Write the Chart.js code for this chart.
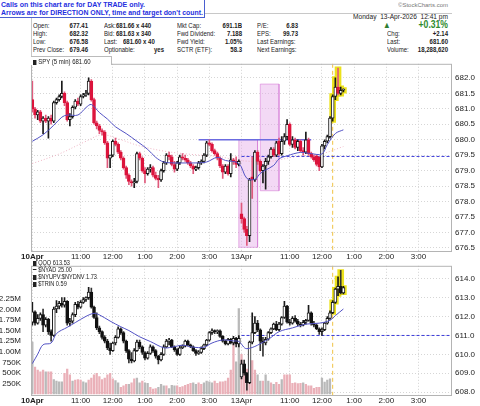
<!DOCTYPE html>
<html>
<head>
<meta charset="utf-8">
<script src="https://cdn.jsdelivr.net/npm/chart.js@4.4.1/dist/chart.umd.min.js"></script>
<style>
  body { margin: 0; width: 480px; height: 406px; position: relative; overflow: hidden; background: #fff;
         font-family: "Liberation Sans", Arial, sans-serif; color: #222; }
  .t { position: absolute; white-space: nowrap; font-size: 7px; line-height: 7px; transform: scaleX(0.86); transform-origin: left top; }
  .b { font-weight: bold; }
  .r { text-align: right; transform-origin: right top; }
  #note { position: absolute; left: 0; top: 0; width: 204px; height: 17px; background: #fff;
          border-right: 1px solid #4a5fd0; border-bottom: 1px solid #4a5fd0; z-index: 3; }
  #note div { position: absolute; left: 1px; font-weight: bold; font-size: 8px; line-height: 8px; color: #1f2fe0; white-space: nowrap; }
  #frame { position: absolute; left: 31px; top: 13px; width: 421px; height: 238px; border-top: 1px solid #c8c8c8; border-left: 1px solid #c8c8c8; box-sizing: border-box; }
  #spyLab { position: absolute; left: 31px; top: 56px; width: 81px; height: 9px; background: #fff;
            border-top: 1px solid #bbb; border-right: 1px solid #bbb; box-sizing: border-box; z-index: 2; }
  canvas { position: absolute; left: 0; }
  #top { top: 56px; }
  #bot { top: 258px; }
  .ico { display: inline-block; width: 4px; height: 5px; background: #222; margin-right: 2px; vertical-align: -1px; }
</style>
</head>
<body>
<div id="frame"></div>
<div id="note">
  <div style="top:1px" data-w="144">Calls on this chart are for DAY TRADE only.</div>
  <div style="top:9px" data-w="202">Arrows are for DIRECTION ONLY, time and target don't count.</div>
</div>

<div class="t" style="left:398px;top:2px;font-size:6px;color:#777" data-w="50">&copy;StockCharts.com</div>
<div class="t" style="left:353px;top:13px" data-w="95">Monday&nbsp; 13-Apr-2026&nbsp; 12:41 pm</div>

<div class="t" style="left:33px;top:22px">Open:</div>
<div class="t b r" style="left:48px;width:40px;top:22px">677.41</div>
<div class="t" style="left:33px;top:30px">High:</div>
<div class="t b r" style="left:48px;width:40px;top:30px">682.32</div>
<div class="t" style="left:33px;top:38px">Low:</div>
<div class="t b r" style="left:48px;width:40px;top:38px">676.58</div>
<div class="t" style="left:33px;top:46px">Prev Close:</div>
<div class="t b r" style="left:48px;width:40px;top:46px">679.46</div>

<div class="t" style="left:104px;top:22px">Ask:</div>
<div class="t b" style="left:116px;top:22px">681.66 x 440</div>
<div class="t" style="left:104px;top:30px">Bid:</div>
<div class="t b" style="left:116px;top:30px">681.63 x 340</div>
<div class="t" style="left:104px;top:38px">Last:</div>
<div class="t b" style="left:123px;top:38px">681.60 x 40</div>
<div class="t" style="left:104px;top:46px">Optionable:</div>
<div class="t b r" style="left:140px;width:24px;top:46px">yes</div>

<div class="t" style="left:177px;top:22px">Mkt Cap:</div>
<div class="t b r" style="left:200px;width:42px;top:22px">691.1B</div>
<div class="t" style="left:177px;top:30px">Fwd Dividend:</div>
<div class="t b r" style="left:200px;width:42px;top:30px">7.188</div>
<div class="t" style="left:177px;top:38px">Fwd Yield:</div>
<div class="t b r" style="left:200px;width:42px;top:38px">1.05%</div>
<div class="t" style="left:177px;top:46px">SCTR (ETF):</div>
<div class="t b r" style="left:200px;width:42px;top:46px">58.3</div>

<div class="t" style="left:257px;top:22px">P/E:</div>
<div class="t b r" style="left:260px;width:38px;top:22px">6.83</div>
<div class="t" style="left:257px;top:30px">EPS:</div>
<div class="t b r" style="left:260px;width:38px;top:30px">99.73</div>
<div class="t" style="left:257px;top:38px">Last Earnings:</div>
<div class="t" style="left:257px;top:46px">Next Earnings:</div>

<div class="t" style="left:383px;top:21px;font-size:9px;line-height:9px;color:#2e7d32">&#9650;</div>
<div class="t b r" style="left:400px;width:48px;top:20px;font-size:10px;line-height:10px;color:#2e8b2e">+0.31%</div>
<div class="t" style="left:387px;top:30px">Chg:</div>
<div class="t b r" style="left:410px;width:38px;top:30px">+2.14</div>
<div class="t" style="left:387px;top:38px">Last:</div>
<div class="t b r" style="left:410px;width:38px;top:38px">681.60</div>
<div class="t" style="left:387px;top:46px">Volume:</div>
<div class="t b r" style="left:390px;width:58px;top:46px">18,288,620</div>

<div id="spyLab"></div>
<div class="t" style="left:33px;top:57.5px;z-index:3"><span class="ico"></span>SPY (5 min) 681.60</div>

<canvas id="top" width="480" height="205"></canvas>
<canvas id="bot" width="480" height="148"></canvas>

<div class="t" style="left:33px;top:259px;font-size:6.5px"><span class="ico"></span>QQQ 613.53</div>
<div class="t" style="left:33px;top:266px;font-size:6.5px"><span class="ico" style="height:1px;vertical-align:2px"></span>$NYAD 25.00</div>
<div class="t" style="left:33px;top:273px;font-size:6.5px"><span class="ico"></span>$NYUPV:$NYDNV 1.73</div>
<div class="t" style="left:33px;top:280px;font-size:6.5px"><span class="ico"></span>$TRIN 0.59</div>

<script>
// ---- time slots: 10Apr + 13Apr, 5 min bars from 9:30 ----
const days = ['10Apr', '13Apr'];
const barsPerDay = [78, 79];
const hourTicks = [[0, '10Apr'], [18, '11:00'], [30, '12:00'], [42, '1:00'], [54, '2:00'], [66, '3:00'],
                   [78, '13Apr'], [96, '11:00'], [108, '12:00'], [120, '1:00'], [132, '2:00'], [144, '3:00']];
const spyTicks = [676.5, 677.0, 677.5, 678.0, 678.5, 679.0, 679.5, 680.0, 680.5, 681.0, 681.5, 682.0];
const qqqTicks = [608.0, 608.5, 609.0, 609.5, 610.0, 610.5, 611.0, 611.5, 612.0, 612.5, 613.0, 613.5, 614.0, 614.5];
const volTicks = [250000, 500000, 750000, 1000000, 1250000, 1500000, 1750000, 2000000, 2250000];

// ---- SPY 5 min ----
const spyOpen = [681.3,681.0,680.8,680.9,680.6,680.7,680.6,680.7,680.6,681.2,681.3,681.4,681.5,681.2,680.65,680.75,681.05,681.25,681.15,681.4,
  681.45,681.5,681.9,681.3,680.55,680.45,680.3,680.25,679.9,679.4,679.5,679.95,679.85,679.6,679.4,679.1,678.85,678.65,678.6,678.65,
  679.55,679.4,679.0,678.9,679.05,679.1,678.85,678.75,678.7,679.0,679.25,679.5,679.45,679.2,679.05,679.25,679.45,679.4,679.35,679.25,
  679.15,679.05,679.1,679.25,679.3,679.5,679.9,679.85,679.65,679.55,679.4,679.15,678.95,679.15,678.9,679.35,679.3,679.2,
  677.6,677.45,677.1,676.9,678.8,678.7,679.6,679.3,679.0,679.15,679.3,679.45,679.7,679.5,679.95,679.55,679.95,680.1,680.5,679.85,
  680.0,679.75,679.95,679.65,679.6,680.0,679.55,679.45,679.48,679.45,679.12,679.8,679.95,680.1,680.7,681.4,681.7,681.5,681.6];
const spyHigh = [681.9,681.05,680.95,680.95,680.75,680.8,680.75,680.8,681.25,681.35,681.45,681.9,681.55,681.25,680.85,681.1,681.3,681.35,681.45,681.5,
  681.6,682.0,681.95,681.35,680.6,680.5,680.35,680.3,679.95,679.5,680.0,680.05,679.9,679.65,679.45,679.15,678.9,678.7,678.75,679.6,
  679.6,679.45,679.1,679.1,679.2,679.15,678.95,678.85,679.05,679.3,679.55,679.6,679.5,679.3,679.3,679.5,679.55,679.5,679.4,679.3,
  679.2,679.15,679.3,679.35,679.55,679.95,680.0,679.9,679.7,679.6,679.45,679.2,679.2,679.2,679.55,679.4,679.45,679.35,
  677.95,677.5,677.2,678.75,679.45,679.65,679.65,679.35,679.2,679.4,679.5,679.75,679.75,679.95,680.05,680.1,680.2,680.65,680.55,680.1,
  680.05,680.0,680.0,679.75,680.25,680.05,679.6,679.5,679.5,679.45,679.85,680.0,680.15,680.75,681.45,682.0,682.32,681.7,681.65];
const spyLow = [680.9,680.7,680.65,680.55,680.2,680.55,680.05,680.5,680.55,681.15,681.25,681.35,681.1,680.6,680.45,680.7,681.0,681.1,681.1,681.35,
  681.4,681.45,681.25,680.5,680.35,680.2,680.15,679.85,679.1,679.1,679.45,679.8,679.55,679.35,679.05,678.75,678.55,678.5,678.45,678.6,
  679.35,678.95,678.6,678.85,678.95,678.8,678.7,678.45,678.65,678.95,679.2,679.35,679.15,678.95,679.0,679.2,679.35,679.3,679.2,679.1,
  678.9,679.0,679.05,679.2,679.25,679.45,679.8,679.6,679.5,679.35,679.1,678.75,678.9,678.85,678.8,679.2,679.1,679.15,
  677.3,677.0,676.58,676.7,678.1,678.65,679.2,678.95,678.6,678.4,679.2,679.4,679.45,679.45,679.5,679.5,679.85,680.0,679.8,679.75,
  679.7,679.65,679.6,679.5,679.55,679.5,679.4,679.3,679.15,679.0,679.1,679.7,679.9,680.05,680.6,681.3,681.45,681.45,681.55];
const spyClose = [681.0,680.8,680.9,680.6,680.7,680.6,680.7,680.6,681.2,681.3,681.4,681.5,681.2,680.65,680.75,681.05,681.25,681.15,681.4,681.45,
  681.5,681.9,681.3,680.55,680.45,680.3,680.25,679.9,679.4,679.5,679.95,679.85,679.6,679.4,679.1,678.85,678.65,678.6,678.65,679.55,
  679.4,679.0,678.9,679.05,679.1,678.85,678.75,678.7,679.0,679.25,679.5,679.45,679.2,679.05,679.25,679.45,679.4,679.35,679.25,679.15,
  679.05,679.1,679.25,679.3,679.5,679.9,679.85,679.65,679.55,679.4,679.15,678.95,679.15,678.9,679.35,679.3,679.2,679.3,
  677.45,677.1,676.9,678.7,678.7,679.6,679.3,679.0,679.15,679.3,679.45,679.7,679.5,679.9,679.55,679.95,680.1,680.5,679.85,680.0,
  679.75,679.95,679.65,679.6,680.0,679.55,679.45,679.35,679.2,679.12,679.8,679.95,680.1,680.7,681.4,681.7,681.5,681.6,681.6];
// moving averages: [bar index, value]
const spyMaFast = [[0,679.95],[4,680.16],[8,680.47],[11,680.73],[13,680.8],[17,680.8],[20,681.04],[22,681.14],[25,680.88],[28,680.67],
  [31,680.42],[35,680.2],[39,679.95],[43,679.69],[46,679.43],[49,679.28],[53,679.25],[58,679.25],[61,679.25],[65,679.28],[69,679.43],
  [72,679.33],[77,679.23],[80,678.75],[83,678.72],[85,678.91],[87,679.02],[90,679.17],[92,679.38],[95,679.48],[100,679.59],[104,679.55],
  [108,679.54],[110,679.84],[113,680.2],[116,680.32]];
const spyMaSlow = [[0,679.23],[10,679.54],[20,679.95],[26,680.16],[33,680.0],[40,679.8],[50,679.62],[60,679.52],[70,679.45],[77,679.33],
  [88,679.3],[98,679.45],[108,679.55],[116,679.78]];
const spyPrevClose = 679.46;
const spyResistance = [62, 104, 680.0];
const spyBoxes = [[77, 84, 680.0, 676.52], [85, 92, 681.8, 678.35]];

// ---- QQQ 5 min + volume ----
const qqqOpen = [611.7,612.25,611.65,611.9,612.1,611.55,611.85,611.2,611.0,612.4,612.55,612.7,612.6,612.8,611.65,611.75,612.1,612.65,612.5,612.75,
  612.9,613.0,613.3,612.5,611.95,611.4,611.2,610.9,610.7,610.35,610.2,610.6,610.9,611.35,611.15,610.7,610.2,609.75,609.65,610.2,
  610.65,610.4,610.1,609.8,610.05,610.4,610.2,609.9,609.7,610.0,610.4,610.7,610.75,610.4,610.25,610.0,610.35,610.45,610.7,610.5,
  610.4,610.2,610.05,610.1,610.3,610.5,610.75,611.15,611.25,611.2,611.25,610.95,610.7,610.55,610.8,610.6,610.85,610.55,
  608.8,609.5,609.0,608.5,610.65,611.15,611.65,611.3,610.7,610.6,610.8,611.15,611.35,611.6,611.3,611.6,611.95,612.55,611.7,611.65,
  611.9,611.75,611.6,611.55,611.7,611.8,612.2,611.65,611.55,611.35,611.2,611.3,611.65,611.9,612.2,612.75,613.45,613.6,613.25];
const qqqHigh = [612.75,612.3,612.1,612.2,612.4,611.95,611.9,611.3,612.5,612.85,612.8,613.0,613.0,612.85,611.9,612.2,612.75,612.8,612.85,613.0,
  613.05,613.55,613.5,612.55,612.2,611.5,611.25,611.0,610.8,610.6,610.65,611.0,611.45,611.4,611.2,610.75,610.25,610.1,610.3,610.75,
  610.75,610.45,610.15,610.15,610.5,610.45,610.25,609.95,610.1,610.5,610.8,610.85,610.8,610.45,610.3,610.45,610.5,610.75,610.75,610.55,
  610.45,610.25,610.2,610.4,610.55,610.8,611.2,611.35,611.3,611.3,611.3,611.0,610.75,610.85,610.85,610.95,610.9,611.0,
  609.7,609.7,609.05,610.7,612.2,612.0,611.8,611.35,610.9,610.9,611.2,611.4,611.65,611.75,611.7,612.0,612.8,612.6,611.85,612.0,
  612.05,611.85,611.7,611.8,611.85,612.6,612.25,611.75,611.6,611.4,611.4,611.7,612.0,612.3,612.85,613.5,614.1,614.45,613.6];
const qqqLow = [611.55,611.55,611.6,611.8,611.2,611.45,611.05,610.7,610.95,612.2,612.4,612.5,612.5,611.55,611.5,611.65,612.0,612.4,612.45,612.7,
  612.8,612.9,612.45,611.9,611.3,611.1,610.8,610.6,610.25,610.0,610.15,610.5,610.85,611.05,610.6,610.1,609.55,609.55,609.6,610.15,
  610.3,610.0,609.7,609.75,610.0,610.1,609.8,609.5,609.65,609.95,610.35,610.5,610.35,610.15,609.95,609.95,610.3,610.4,610.45,610.35,
  610.15,609.95,610.0,610.05,610.25,610.45,610.7,611.05,611.1,611.1,610.9,610.65,610.5,610.5,610.55,610.5,610.4,610.4,
  608.7,608.9,608.1,608.45,610.55,611.1,611.2,610.2,609.9,610.5,610.75,611.1,611.3,611.25,611.25,611.55,611.9,611.65,611.55,611.6,
  611.7,611.5,611.45,611.5,611.6,611.75,611.55,611.45,611.3,611.05,611.0,611.25,611.6,611.85,612.15,612.7,613.1,613.2,613.2];
const qqqClose = [612.25,611.65,611.9,612.1,611.55,611.85,611.2,611.0,612.4,612.55,612.7,612.6,612.8,611.65,611.75,612.1,612.65,612.5,612.75,612.9,
  613.0,613.3,612.5,611.95,611.4,611.2,610.9,610.7,610.35,610.2,610.6,610.9,611.35,611.15,610.7,610.2,609.75,609.65,610.2,610.65,
  610.4,610.1,609.8,610.05,610.4,610.2,609.9,609.7,610.0,610.4,610.7,610.75,610.4,610.25,610.0,610.35,610.45,610.7,610.5,610.4,
  610.2,610.05,610.1,610.3,610.5,610.75,611.15,611.25,611.2,611.25,610.95,610.7,610.55,610.8,610.6,610.85,610.55,610.85,
  609.5,609.0,608.5,610.65,611.15,611.65,611.3,610.7,610.6,610.8,611.15,611.35,611.6,611.3,611.6,611.95,612.55,611.7,611.65,611.9,
  611.75,611.6,611.55,611.7,611.8,612.2,611.65,611.55,611.35,611.2,611.3,611.65,611.9,612.2,612.75,613.45,613.6,613.25,613.53];
const qqqVolume = [1240,650,576,540,576,540,540,540,354,317,300,300,502,600,465,317,340,354,340,300,
  280,340,391,465,502,428,354,391,465,502,370,330,280,170,205,243,243,280,370,391,
  280,317,280,265,170,131,145,170,243,205,205,145,220,205,205,170,190,220,243,265,
  280,243,280,243,280,317,300,280,317,265,300,300,317,391,576,1290,770,2030,
  950,700,600,1090,800,576,465,317,317,465,317,280,243,290,243,354,465,465,465,265,
  280,260,265,280,243,205,205,150,170,170,391,295,340,370].map(v => v * 1000);
const qqqVolDown = [0,1,1,1,1,0,1,1,0,0,0,0,1,1,1,0,1,1,1,0,0,1,1,1,1,1,1,1,1,1,1,0,0,1,1,1,0,1,1,0,
  0,1,0,0,1,1,1,0,0,0,1,0,0,0,1,1,1,1,1,1,0,0,1,1,0,0,0,0,1,1,1,1,1,1,1,1,0,0,
  1,1,1,1,1,1,0,0,1,0,0,1,0,1,1,0,1,1,1,1,1,1,1,0,1,1,1,1,1,1,0,0,0,0];
const qqqMa = [[0,609.51],[2,610.01],[4,610.51],[7,610.6],[9,611.1],[13,611.43],[16,611.68],[20,612.01],[23,612.17],[25,612.09],
  [29,611.76],[33,611.46],[36,611.26],[40,610.93],[44,610.68],[49,610.35],[52,610.38],[56,610.48],[60,610.38],[64,610.38],[67,610.6],
  [71,610.76],[75,610.71],[77,610.68],[80,610.3],[88,610.8],[92,611.2],[97,611.4],[102,611.6],[107,611.65],[111,611.8],[113,612.05],[116,612.4]];
const qqqPrevClose = 611.0;

const entryIndex = 112;   // yellow dashed marker + highlighted bars

// ---- helpers ----
const slots = [];
days.forEach((d, k) => {
  for (let i = 0; i < barsPerDay[k]; i++) {
    const m = 570 + 5 * i;
    slots.push(d + ' ' + Math.floor(m / 60) + ':' + String(m % 60).padStart(2, '0'));
  }
});
const tickMap = Object.fromEntries(hourTicks);
const FONT = '"Liberation Sans", Arial, sans-serif';
const pts = arr => arr.map(([i, v]) => ({ x: slots[i], y: v }));
const fixTicks = list => s => { s.ticks = list.map(v => ({ value: v })); };

function xAxis(h) {
  return {
    offset: true,
    grid: { offset: false, color: '#d2d2d2', drawTicks: false },
    border: { display: false, dash: [1, 2] },
    ticks: {
      autoSkip: false, maxRotation: 0, padding: 1, color: '#222',
      font: c => ({ size: 8, family: FONT, weight: (c.index === 0 || c.index === 78) ? 'bold' : 'normal' }),
      callback: (v, i) => (tickMap[i] !== undefined ? tickMap[i] : null)
    },
    afterFit: s => { s.height = h; }
  };
}

function candleSets(o, h, l, c, upLine, downFill, downWick, yID) {
  const up = c.map((v, i) => v >= o[i]);
  const hl = c.map((v, i) => (i >= entryIndex ? [l[i] - 0.04, h[i] + 0.04] : null));
  return [
    { type: 'bar', yAxisID: yID, grouped: false, order: 4, data: hl, backgroundColor: '#ece21c',
      barThickness: 6 },
    { type: 'bar', yAxisID: yID, grouped: false, order: 3, data: h.map((v, i) => [l[i], v]),
      backgroundColor: up.map(u => (u ? upLine : downWick)), barThickness: 1 },
    { type: 'bar', yAxisID: yID, grouped: false, order: 2, data: o.map((v, i) => [v, c[i]]),
      backgroundColor: up.map(u => (u ? '#ffffff' : downFill)), borderColor: up.map(u => (u ? upLine : downFill)),
      borderWidth: 1, borderSkipped: false, barThickness: 3, minBarLength: 1 }
  ];
}

const framePlugin = {
  id: 'frame',
  beforeDatasetsDraw(chart) {
    // analyst marker: yellow dashed vertical at the entry bar
    const { ctx, chartArea: a, scales } = chart;
    const x = scales.x.getPixelForValue(entryIndex);
    ctx.save();
    ctx.strokeStyle = '#f0c243';
    ctx.lineWidth = 1;
    ctx.setLineDash([4, 3]);
    ctx.beginPath(); ctx.moveTo(x, a.top); ctx.lineTo(x, a.bottom); ctx.stroke();
    ctx.restore();
  },
  afterDraw(chart) {
    const { ctx, chartArea: a } = chart;
    ctx.save();
    ctx.strokeStyle = '#b4b4b4';
    ctx.lineWidth = 1;
    ctx.strokeRect(a.left + 0.5, a.top + 0.5, a.right - a.left - 1, a.bottom - a.top);
    ctx.restore();
  }
};

Chart.defaults.font.family = FONT;
Chart.defaults.animation = false;
Chart.defaults.plugins.legend.display = false;
Chart.defaults.plugins.tooltip.enabled = false;

// ---- top panel: SPY ----
const boxSets = spyBoxes.map(([a, b, top, bot]) => ({
  type: 'line', order: 9,
  data: [{ x: slots[a], y: top }, { x: slots[b], y: top }, { x: slots[b], y: bot }, { x: slots[a], y: bot }, { x: slots[a], y: top }],
  borderColor: 'rgba(214,120,214,0.55)', borderWidth: 1, backgroundColor: 'rgba(228,170,232,0.45)',
  fill: 'shape', pointRadius: 0, tension: 0
}));

new Chart(document.getElementById('top'), {
  type: 'bar',
  data: {
    labels: slots,
    datasets: [
      { type: 'line', order: 1, data: pts(spyMaFast), borderColor: '#5252c4', borderWidth: 1, pointRadius: 0, tension: 0.35 },
      { type: 'line', order: 6, data: pts(spyMaSlow), borderColor: '#eeb4c4', borderWidth: 1, borderDash: [1, 2],
        pointRadius: 0, tension: 0.35 },
      { type: 'line', order: 5, data: [{ x: slots[78], y: spyPrevClose }, { x: slots[slots.length - 1], y: spyPrevClose }],
        borderColor: '#3a3ad8', borderWidth: 1, borderDash: [3, 2], pointRadius: 0 },
      { type: 'line', order: 5, data: [{ x: slots[spyResistance[0]], y: spyResistance[2] }, { x: slots[spyResistance[1]], y: spyResistance[2] }],
        borderColor: '#6b6be0', borderWidth: 1.5, pointRadius: 0 },
      ...boxSets,
      ...candleSets(spyOpen, spyHigh, spyLow, spyClose, '#1a1a1a', '#dc143c', '#e05a7c', 'y')
    ]
  },
  options: {
    responsive: false,
    layout: { padding: { left: 31, right: 0, top: 0, bottom: 0 } },
    scales: {
      x: xAxis(10),
      y: {
        position: 'right', min: 676.4006, max: 682.4565,
        grid: { color: '#d6d6d6', drawTicks: false },
        border: { display: false, dash: [1, 2] },
        afterBuildTicks: fixTicks(spyTicks),
        ticks: { padding: 3, color: '#222', font: { size: 8 }, callback: v => v.toFixed(1) },
        afterFit: s => { s.width = 28; }
      }
    }
  },
  plugins: [framePlugin]
});

// ---- bottom panel: QQQ + volume ----
new Chart(document.getElementById('bot'), {
  type: 'bar',
  data: {
    labels: slots,
    datasets: [
      { type: 'line', order: 1, data: pts(qqqMa), borderColor: '#5252c4', borderWidth: 1, pointRadius: 0, tension: 0.35, yAxisID: 'y' },
      { type: 'line', order: 5, data: [{ x: slots[78], y: qqqPrevClose }, { x: slots[slots.length - 1], y: qqqPrevClose }],
        borderColor: '#3a3ad8', borderWidth: 1, borderDash: [3, 2], pointRadius: 0, yAxisID: 'y' },
      { type: 'bar', order: 10, yAxisID: 'vol', grouped: false, data: qqqVolume,
        backgroundColor: qqqVolDown.map(d => (d ? '#eab0b8' : '#b9b9b9')), barPercentage: 0.85, categoryPercentage: 1 },
      ...candleSets(qqqOpen, qqqHigh, qqqLow, qqqClose, '#1a1a1a', '#111111', '#333333', 'y')
    ]
  },
  options: {
    responsive: false,
    layout: { padding: 0 },
    scales: {
      x: xAxis(11),
      vol: {
        position: 'left', min: -16700, max: 3028000,
        grid: { display: false },
        border: { display: false },
        afterBuildTicks: fixTicks(volTicks),
        ticks: { padding: 2, color: '#222', font: { size: 8 },
                 callback: v => (v >= 1000000 ? (v / 1e6).toFixed(2) + 'M' : (v / 1000) + 'K') },
        afterFit: s => { s.width = 31; }
      },
      y: {
        position: 'right', min: 607.85, max: 614.685,
        grid: { color: '#d6d6d6', drawTicks: false },
        border: { display: false, dash: [1, 2] },
        afterBuildTicks: fixTicks(qqqTicks),
        ticks: { padding: 3, color: '#222', font: { size: 8 }, callback: v => v.toFixed(1) },
        afterFit: s => { s.width = 28; }
      }
    }
  },
  plugins: [framePlugin]
});

// squeeze header texts that must fit a measured width
document.querySelectorAll('[data-w]').forEach(el => {
  el.style.display = 'inline-block';
  el.style.transform = 'none';
  const w = el.getBoundingClientRect().width;
  const target = +el.dataset.w;
  if (w > 0) { el.style.transformOrigin = 'left top'; el.style.transform = 'scaleX(' + (target / w) + ')'; }
});
</script>
</body>
</html>
